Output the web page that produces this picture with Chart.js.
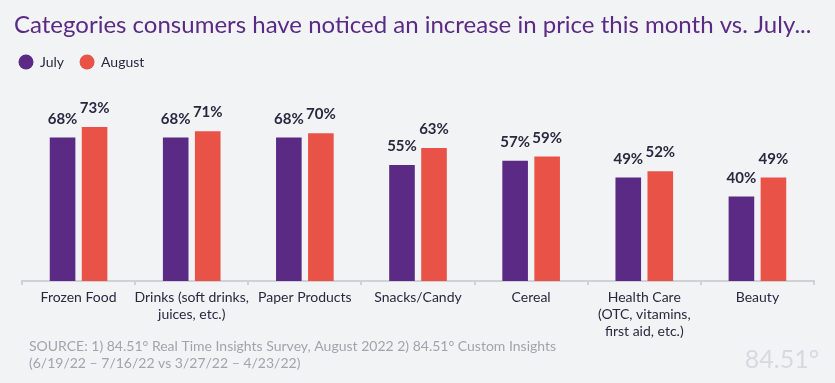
<!DOCTYPE html>
<html>
<head>
<meta charset="utf-8">
<script src="https://cdn.jsdelivr.net/npm/chart.js@4.4.0/dist/chart.umd.min.js"></script>
<style>
  html, body { margin: 0; padding: 0; background: #f2f3f5; }
  #wrap { width: 835px; height: 383px; position: relative; }
</style>
</head>
<body>
<div id="wrap"><canvas id="barChart" width="835" height="383"></canvas></div>
<script>
// datos
const categories = [
  'Frozen Food',
  ['Drinks (soft drinks,', 'juices, etc.)'],
  'Paper Products',
  'Snacks/Candy',
  'Cereal',
  ['Health Care', '(OTC, vitamins,', 'first aid, etc.)'],
  'Beauty'
];
const julyValues   = [68, 68, 68, 55, 57, 49, 40];
const augustValues = [73, 71, 70, 63, 59, 52, 49];
const seriesNames  = ['July', 'August'];
const titleText  = 'Categories consumers have noticed an increase in price this month vs. July...';
const sourceText = [
  'SOURCE: 1) 84.51° Real Time Insights Survey, August 2022 2) 84.51° Custom Insights',
  '(6/19/22 – 7/16/22 vs 3/27/22 – 4/23/22)'
];

const PURPLE = '#5a2a84';
const RED    = '#e85247';
const FONT   = 'Lato, "Open Sans", sans-serif';

// fondo, título, leyenda, etiquetas y fuente
const decorPlugin = {
  id: 'decor',
  beforeDraw(chart) {
    const c = chart.ctx;
    c.save();
    c.fillStyle = '#f2f3f5';
    c.fillRect(0, 0, chart.width, chart.height);
    c.restore();
  },
  afterDatasetsDraw(chart) {
    const c = chart.ctx;
    c.save();
    c.font = 'bold 15px ' + FONT;
    c.fillStyle = '#2a2840';
    c.textAlign = 'center';
    c.textBaseline = 'alphabetic';
    chart.data.datasets.forEach((ds, i) => {
      chart.getDatasetMeta(i).data.forEach((bar, j) => {
        c.fillText(ds.data[j] + '%', bar.x, bar.y - 14);
      });
    });
    c.restore();
  },
  afterDraw(chart) {
    const c = chart.ctx;
    c.save();
    // título
    c.font = '24px ' + FONT;
    c.fillStyle = PURPLE;
    c.textBaseline = 'middle';
    c.textAlign = 'left';
    c.fillText(titleText, 14, 25);

    // leyenda
    c.font = '14px ' + FONT;
    let x = 18;
    chart.data.datasets.forEach(ds => {
      c.fillStyle = ds.backgroundColor;
      c.beginPath();
      c.arc(x + 8, 62, 7.5, 0, Math.PI * 2);
      c.fill();
      c.fillStyle = '#2a2840';
      c.fillText(ds.label, x + 22, 62);
      x += 22 + c.measureText(ds.label).width + 15;
    });

    // fuente
    c.font = '14px ' + FONT;
    c.fillStyle = '#a3a3ad';
    c.fillText(sourceText[0], 29, 346);
    c.fillText(sourceText[1], 29, 363);

    // logo
    c.font = '25px ' + FONT;
    c.fillStyle = '#d8d8de';
    c.textAlign = 'right';
    c.fillText('84.51°', 819, 360);
    c.restore();
  }
};

new Chart(document.getElementById('barChart').getContext('2d'), {
  type: 'bar',
  data: {
    labels: categories,
    datasets: [
      { label: seriesNames[0], data: julyValues,   backgroundColor: PURPLE },
      { label: seriesNames[1], data: augustValues, backgroundColor: RED }
    ]
  },
  options: {
    responsive: false,
    animation: false,
    events: [],
    layout: { padding: { top: 70, left: 22, right: 21, bottom: 0 } },
    categoryPercentage: 0.566,
    barPercentage: 0.8,
    plugins: {
      legend: { display: false },
      title: { display: false },
      tooltip: { enabled: false }
    },
    scales: {
      y: { display: false, min: 0, max: 100 },
      x: {
        afterFit(scale) { scale.height = 102; },
        border: { display: true, color: '#cfd0d8', width: 2 },
        grid: {
          offset: true,
          drawOnChartArea: false,
          drawTicks: true,
          tickLength: 4,
          color: '#cfd0d8',
          lineWidth: 2
        },
        ticks: {
          color: '#2a2840',
          padding: 4,
          maxRotation: 0,
          autoSkip: false,
          font: { family: FONT, size: 14, lineHeight: 1.2 }
        }
      }
    }
  },
  plugins: [decorPlugin]
});
</script>
</body>
</html>
